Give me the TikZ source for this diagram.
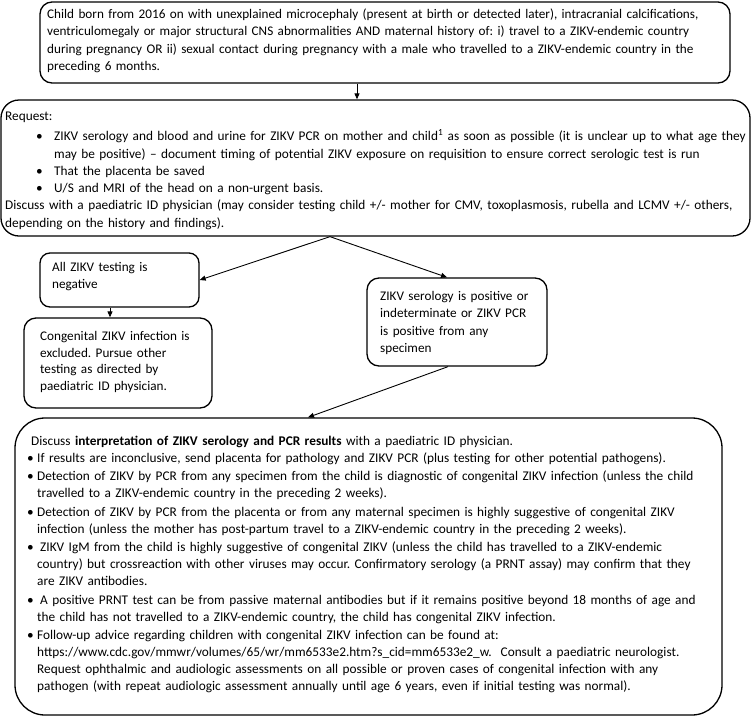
\documentclass[tikz,border=0pt]{standalone}
\usepackage{fontspec}
\setmainfont{Carlito}
\usetikzlibrary{arrows.meta}
\frenchspacing
\newcommand\tbul{\hspace*{31pt}\makebox[18pt][l]{\textbullet}}
\newcommand\tind{\hspace*{49pt}}
\newcommand\bbul{\makebox[10pt][l]{\textbullet}}
\newcommand\bind{\hspace*{10pt}}
\begin{document}
\begin{tikzpicture}[x=1pt,y=-1pt,
  box/.style={draw=black, line width=1.3pt, rounded corners=#1, inner sep=0pt},
  box/.default=10pt,
  arr/.style={-{Triangle[length=6pt,width=5pt]}, line width=0.9pt},
  tt/.style={inner sep=0pt, anchor=north west, align=left, text width=800pt,
    font=\frenchspacing\fontsize{13.2}{17.3}\selectfont, execute at begin node=\strut},
  tw/.style={tt, font=\frenchspacing\fontsize{13.3}{17.3}\selectfont},
  bt/.style={inner sep=0pt, anchor=north west, align=left, text width=800pt,
    font=\frenchspacing\fontsize{13.3}{17}\selectfont, execute at begin node=\strut}
]
\useasboundingbox (0,0) rectangle (752,718);
% boxes
\node[box=12pt, minimum width=690pt, minimum height=81pt] (b1) at (385,42.5) {};
\node[box=18pt, minimum width=749pt, minimum height=136pt] (b2) at (375.5,168) {};
\node[box=10pt, minimum width=159pt, minimum height=54pt] (b3) at (119.5,280) {};
\node[box=12pt, minimum width=188pt, minimum height=90pt] (b4) at (118,363) {};
\node[box=12pt, minimum width=180pt, minimum height=88pt] (b5) at (457,322) {};
\node[box=30pt, minimum width=707pt, minimum height=297pt] (b6) at (368.5,566.5) {};
% texts
\node[tt] (t1) at (47,6.1) {Child born from 2016 on with unexplained microcephaly (present at birth or detected later), intracranial calcifications,\\
ventriculomegaly or major structural CNS abnormalities AND maternal history of: i) travel to a ZIKV-endemic country\\
during pregnancy OR ii) sexual contact during pregnancy with a male who travelled to a ZIKV-endemic country in the\\
preceding 6 months.};
\node[tw] (t2) at (5,108.1) {Request:\\[3pt]
\tbul ZIKV serology and blood and urine for ZIKV PCR on mother and child\textsuperscript{1} as soon as possible (it is unclear up to what age they\\
\tind may be positive) -- document timing of potential ZIKV exposure on requisition to ensure correct serologic test is run\\
\tbul That the placenta be saved\\
\tbul U/S and MRI of the head on a non-urgent basis.\\
Discuss with a paediatric ID physician (may consider testing child +/- mother for CMV, toxoplasmosis, rubella and LCMV +/- others,\\
depending on the history and findings).};
\node[tt] (t3) at (52,259.1) {All ZIKV testing is\\negative};
\node[tt, font=\frenchspacing\fontsize{13.2}{16.9}\selectfont] (t4) at (40,328.1) {Congenital ZIKV infection is\\excluded. Pursue other\\testing as directed by\\paediatric ID physician.};
\node[tt] (t5) at (380,288.1) {ZIKV serology is positive or\\indeterminate or ZIKV PCR\\is positive from any\\specimen};
\node[bt] (t6) at (27,433.3) {\hspace*{4pt}Discuss \textbf{interpretation of ZIKV serology and PCR results} with a paediatric ID physician.\\
\bbul If results are inconclusive, send placenta for pathology and ZIKV PCR (plus testing for other potential pathogens).\\[1.5pt]
\bbul Detection of ZIKV by PCR from any specimen from the child is diagnostic of congenital ZIKV infection (unless the child\\
\bind travelled to a ZIKV-endemic country in the preceding 2 weeks).\\[1.5pt]
\bbul Detection of ZIKV by PCR from the placenta or from any maternal specimen is highly suggestive of congenital ZIKV\\
\bind infection (unless the mother has post-partum travel to a ZIKV-endemic country in the preceding 2 weeks).\\[1.5pt]
\bbul\hspace*{3pt}ZIKV IgM from the child is highly suggestive of congenital ZIKV (unless the child has travelled to a ZIKV-endemic\\
\bind country) but crossreaction with other viruses may occur. Confirmatory serology (a PRNT assay) may confirm that they\\
\bind are ZIKV antibodies.\\[1.5pt]
\bbul\hspace*{3pt}A positive PRNT test can be from passive maternal antibodies but if it remains positive beyond 18 months of age and\\
\bind the child has not travelled to a ZIKV-endemic country, the child has congenital ZIKV infection.\\[1.5pt]
\bbul Follow-up advice regarding children with congenital ZIKV infection can be found at:\\
\bind https://www.cdc.gov/mmwr/volumes/65/wr/mm6533e2.htm?s\_cid=mm6533e2\_w.\ \ Consult a paediatric neurologist.\\
\bind Request ophthalmic and audiologic assessments on all possible or proven cases of congenital infection with any\\
\bind pathogen (with repeat audiologic assessment annually until age 6 years, even if initial testing was normal).};
% connectors
\draw[arr] ([xshift=-28pt]b1.south) -- ([xshift=-28pt]b1.south |- b2.north);
\draw[arr] ([xshift=-45.5pt]b2.south) -- (b3.east);
\draw[arr] ([xshift=-45.5pt]b2.south) -- ([xshift=-10pt]b5.north);
\draw[arr] ([xshift=-9.5pt]b3.south) -- ([xshift=-9.5pt]b3.south |- b4.north);
\draw[arr] ([xshift=-9pt]b5.south) -- ([xshift=-60.5pt]b6.north);
\end{tikzpicture}
\end{document}
